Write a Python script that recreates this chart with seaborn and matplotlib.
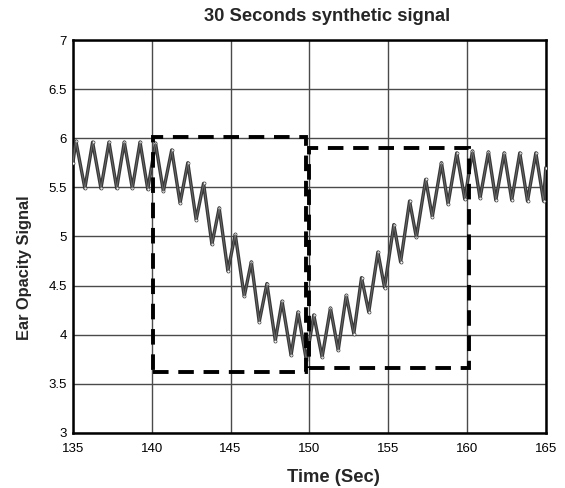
import matplotlib
matplotlib.use("Agg")
import matplotlib.pyplot as plt
from matplotlib.patches import Rectangle
import seaborn as sns
import pandas as pd

# ---- data ----
time_sec = [135.0, 135.19, 135.76, 136.25, 136.78, 137.29, 137.78, 138.26, 138.77,
            139.26, 139.75, 140.24, 140.74, 141.27, 141.80, 142.29, 142.82, 143.29,
            143.82, 144.28, 144.83, 145.30, 145.87, 146.32, 146.82, 147.31, 147.84,
            148.27, 148.84, 149.28, 149.81, 150.28, 150.81, 151.34, 151.83, 152.34,
            152.82, 153.31, 153.77, 154.35, 154.77, 155.36, 155.79, 156.36, 156.79,
            157.38, 157.80, 158.38, 158.80, 159.35, 159.86, 160.35, 160.83, 161.36,
            161.83, 162.36, 162.84, 163.35, 163.84, 164.37, 164.86, 165.0]
signal = [5.75, 5.97, 5.49, 5.96, 5.49, 5.96, 5.49, 5.96, 5.49,
          5.96, 5.48, 5.95, 5.46, 5.88, 5.34, 5.75, 5.17, 5.54,
          4.92, 5.29, 4.65, 5.02, 4.39, 4.74, 4.13, 4.52, 3.94,
          4.34, 3.79, 4.23, 3.74, 4.20, 3.77, 4.27, 3.84, 4.40,
          4.01, 4.58, 4.23, 4.84, 4.48, 5.12, 4.74, 5.36, 4.99,
          5.58, 5.20, 5.75, 5.33, 5.85, 5.38, 5.87, 5.39, 5.86,
          5.37, 5.85, 5.37, 5.85, 5.36, 5.85, 5.36, 5.70]

# dashed boxes: [left, right], [bottom, top]
box_t_start = [140.1, 150.0]
box_t_end = [149.8, 160.12]
box_low = [3.62, 3.665]
box_high = [6.01, 5.90]

x_ticks = [135, 140, 145, 150, 155, 160, 165]
y_ticks = [3, 3.5, 4, 4.5, 5, 5.5, 6, 6.5, 7]
y_tick_labels = ["3", "3.5", "4", "4.5", "5", "5.5", "6", "6.5", "7"]

title = "30 Seconds synthetic signal"
x_label = "Time (Sec)"
y_label = "Ear Opacity Signal"

# ---- plotting ----
sns.set_style("white")
plt.rcParams["font.family"] = ["Liberation Sans", "DejaVu Sans"]

fig, ax = plt.subplots(figsize=(5.65, 4.88), dpi=100)
fig.subplots_adjust(left=0.129, right=0.966, top=0.918, bottom=0.113)

df = pd.DataFrame({"t": time_sec, "v": signal})
sns.lineplot(data=df, x="t", y="v", ax=ax, color="#383838", linewidth=2.4,
             marker="o", markersize=2.2, markerfacecolor="white",
             markeredgecolor="#383838", markeredgewidth=0.5, zorder=3)
for ln in ax.get_lines():
    ln.set_solid_joinstyle("round")
sns.lineplot(data=df, x="t", y="v", ax=ax, color="#6e6e6e", linewidth=0.6,
             zorder=3.5)

for x0, x1, y0, y1 in zip(box_t_start, box_t_end, box_low, box_high):
    ax.add_patch(Rectangle((x0, y0), x1 - x0, y1 - y0, fill=False,
                           edgecolor="black", linewidth=2.8,
                           linestyle=(0, (4, 2.5)), zorder=4))

ax.set_xlim(135, 165)
ax.set_ylim(3, 7)
ax.set_xticks(x_ticks)
ax.set_xticklabels([str(v) for v in x_ticks])
ax.set_yticks(y_ticks)
ax.set_yticklabels(y_tick_labels)
ax.grid(True, color="#4a4a4a", linewidth=1.0)
ax.set_axisbelow(True)
for s in ax.spines.values():
    s.set_color("black")
    s.set_linewidth(1.8)
    s.set_visible(True)
ax.tick_params(direction="in", length=4, width=1, colors="black",
               labelsize=9.5, top=False, right=False)
ax.tick_params(axis="x", pad=7.5)
ax.tick_params(axis="y", pad=4.5)

ax.set_title(title, fontsize=13.2, fontweight="bold", x=0.538, y=1.059,
             va="center", pad=0)
ax.set_xlabel(x_label, fontsize=13.2, fontweight="bold", va="center")
ax.xaxis.set_label_coords(0.55, -0.1145)
ax.set_ylabel(y_label, fontsize=11.8, fontweight="bold", va="center")
ax.yaxis.set_label_coords(-0.1015, 0.42)

fig.savefig("out.png", dpi=100)
